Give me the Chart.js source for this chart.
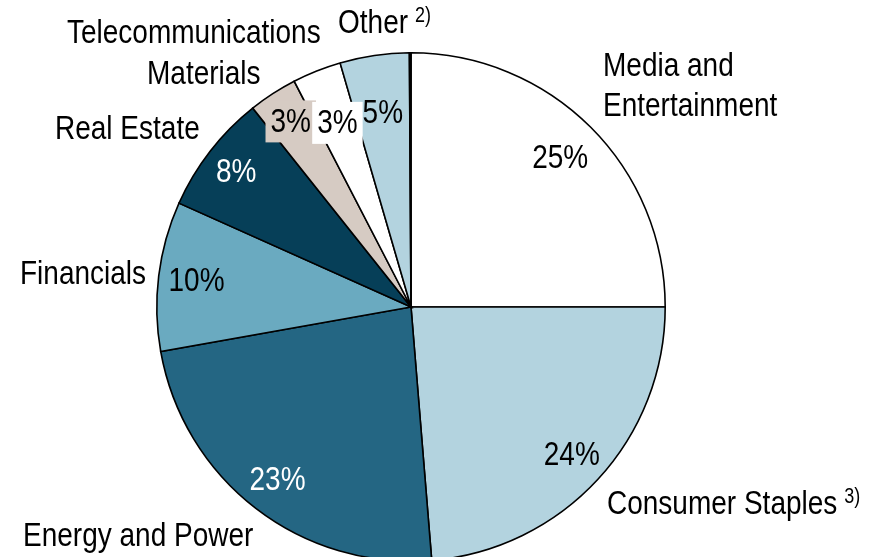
<!DOCTYPE html>
<html>
<head>
<meta charset="utf-8">
<script src="https://cdn.jsdelivr.net/npm/chart.js@4"></script>
<style>
  html, body { margin: 0; padding: 0; background: #fff; overflow: hidden; }
  #wrap { width: 883px; height: 614px; }
</style>
</head>
<body>
<div id="wrap"><canvas id="sectorPie" width="883" height="614"></canvas></div>
<script>
// Sectors, clockwise from 12 o'clock
const sectors = ['Media and Entertainment', 'Consumer Staples', 'Energy and Power', 'Financials',
                 'Real Estate', 'Materials', 'Telecommunications', 'Other', ''];
// Share of each slice (%)
const shares = [25.0, 23.7, 23.5, 9.5, 7.6, 3.1, 3.1, 4.4, 0.1];
// Percent labels as printed on the chart
const pctLabels = ['25%', '24%', '23%', '10%', '8%', '3%', '3%', '5%', ''];
const sliceColors = ['#ffffff', '#b3d3df', '#246683', '#6aaac0', '#063f58', '#d6cbc3', '#ffffff', '#b3d3df', '#111111'];

// label styling (not data)
const pctColor = ['#000', '#000', '#fff', '#000', '#fff', '#000', '#000', '#000', '#000'];
const pctRadius = [0.83, 0.86, 0.86, 0.85, 0.87, 0.87, 0.78, 0.77, 0];
const pctBox = [false, false, false, false, false, true, true, false, false];

// category names drawn outside the pie
const nameLabels = [
    { lines: ['Media and', 'Entertainment'], x: 603, y: 67, sup: '' },
    { lines: ['Consumer Staples'], x: 607, y: 505, sup: '3)' },
    { lines: ['Energy and Power'], x: 23, y: 537, sup: '' },
    { lines: ['Financials'], x: 20, y: 275, sup: '' },
    { lines: ['Real Estate'], x: 55, y: 130, sup: '' },
    { lines: ['Materials'], x: 147, y: 75, sup: '' },
    { lines: ['Telecommunications'], x: 67, y: 34, sup: '' },
    { lines: ['Other'], x: 338, y: 24, sup: '2)' }
];

const FONT = '"Liberation Sans", Arial, sans-serif';
const STRETCH = 1.18; // the original type is taller than Arial

function tallText(ctx, txt, x, y) {
    ctx.save();
    ctx.translate(x, y);
    ctx.scale(1, STRETCH);
    ctx.fillText(txt, 0, 0);
    ctx.restore();
}

const labelPlugin = {
    id: 'sectorLabels',
    afterDraw(chart) {
        const ctx = chart.ctx;
        const arcs = chart.getDatasetMeta(0).data;
        ctx.save();
        ctx.textBaseline = 'middle';

        // percentages inside the slices
        ctx.font = '28px ' + FONT;
        ctx.textAlign = 'center';
        arcs.forEach((arc, i) => {
            if (!pctLabels[i]) return;
            const p = arc.getProps(['x', 'y', 'startAngle', 'endAngle', 'outerRadius'], true);
            const mid = (p.startAngle + p.endAngle) / 2;
            const r = p.outerRadius * pctRadius[i];
            const x = p.x + Math.cos(mid) * r;
            const y = p.y + Math.sin(mid) * r;
            if (pctBox[i]) {
                const w = ctx.measureText(pctLabels[i]).width + 10;
                ctx.fillStyle = sliceColors[i];
                ctx.fillRect(x - w / 2, y - 21, w, 42);
            }
            ctx.fillStyle = pctColor[i];
            tallText(ctx, pctLabels[i], x, y + 1);
        });

        // sector names
        ctx.textAlign = 'left';
        ctx.fillStyle = '#000';
        nameLabels.forEach(lab => {
            ctx.font = '28px ' + FONT;
            let w = 0;
            lab.lines.forEach((ln, k) => {
                tallText(ctx, ln, lab.x, lab.y + k * 40);
                w = ctx.measureText(ln).width;
            });
            if (lab.sup) {
                ctx.font = '18px ' + FONT;
                tallText(ctx, lab.sup, lab.x + w + 7, lab.y - 8);
            }
        });
        ctx.restore();
    }
};

new Chart(document.getElementById('sectorPie'), {
    type: 'pie',
    data: {
        labels: sectors,
        datasets: [{
            data: shares,
            backgroundColor: sliceColors,
            borderColor: '#000',
            borderWidth: 1.6,
            borderJoinStyle: 'miter'
        }]
    },
    options: {
        responsive: false,
        animation: false,
        layout: { padding: { left: 156, right: 217, top: 52, bottom: 52 } },
        plugins: {
            legend: { display: false },
            tooltip: { enabled: false }
        }
    },
    plugins: [labelPlugin]
});
</script>
</body>
</html>
